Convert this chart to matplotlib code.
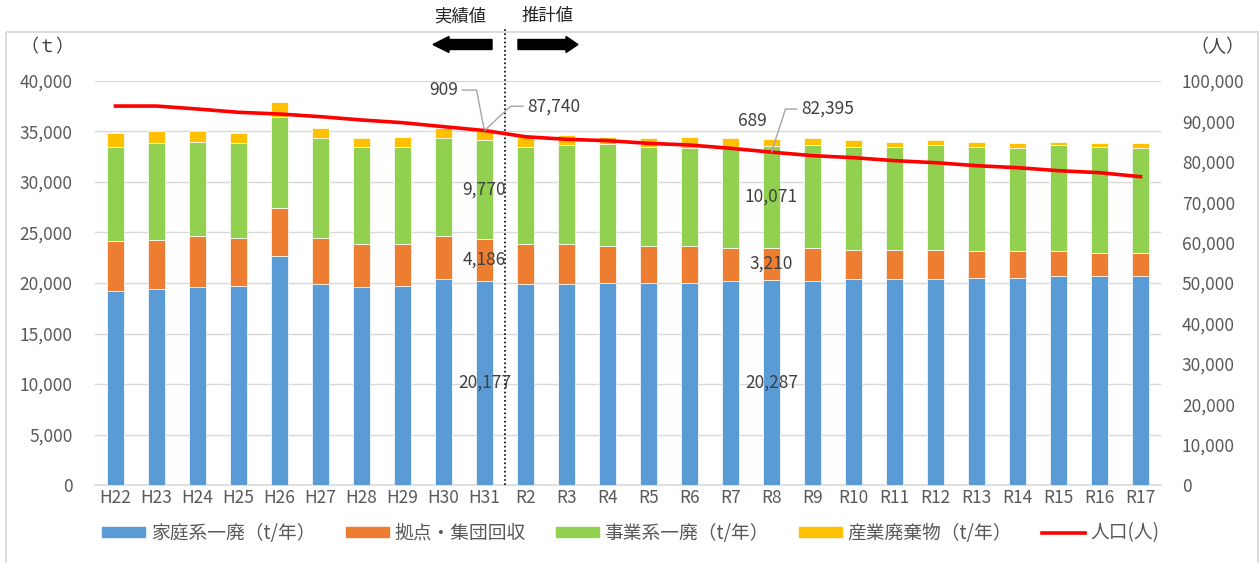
import numpy as np
import matplotlib.pyplot as plt
from matplotlib.patches import Patch, Polygon, Rectangle
from matplotlib.lines import Line2D

plt.rcParams['font.family'] = ['Noto Sans CJK JP', 'DejaVu Sans']

# 年度
years = ['H22', 'H23', 'H24', 'H25', 'H26', 'H27', 'H28', 'H29', 'H30', 'H31',
         'R2', 'R3', 'R4', 'R5', 'R6', 'R7', 'R8', 'R9', 'R10', 'R11',
         'R12', 'R13', 'R14', 'R15', 'R16', 'R17']

# 家庭系一廃 (t/年)
household = [19240, 19400, 19570, 19740, 22710, 19900, 19570, 19740, 20400, 20177,
             19900, 19900, 20030, 20030, 20030, 20200, 20287, 20200, 20360, 20360,
             20360, 20530, 20530, 20730, 20730, 20730]
# 拠点・集団回収
collection = [4920, 4890, 5120, 4750, 4750, 4590, 4260, 4090, 4290, 4186,
              3930, 3930, 3670, 3670, 3670, 3300, 3210, 3300, 2940, 2940,
              2940, 2640, 2640, 2440, 2270, 2270]
# 事業系一廃 (t/年)
business = [9340, 9540, 9300, 9340, 9010, 9830, 9670, 9670, 9630, 9770,
            9670, 9830, 10030, 9800, 9630, 10000, 10071, 10160, 10200, 10200,
            10360, 10330, 10160, 10490, 10500, 10330]
# 産業廃棄物 (t/年)
industrial = [1320, 1190, 1030, 990, 1490, 1000, 820, 990, 980, 909,
              990, 990, 760, 820, 1160, 820, 689, 660, 660, 490,
              500, 490, 530, 330, 360, 530]
# 人口 (人)
population = [93800, 93800, 93070, 92250, 91830, 91170, 90350, 89680, 88700, 87740,
              86200, 85570, 85230, 84570, 84160, 83340, 82395, 81520, 81020, 80280,
              79780, 79040, 78540, 77800, 77310, 76310]

c_blue = '#5B9BD5'
c_orange = '#ED7D31'
c_green = '#92D050'
c_yellow = '#FFC000'
c_red = '#FF0000'
c_text = '#595959'
c_grid = '#D9D9D9'

fig = plt.figure(figsize=(12.6, 5.63), dpi=100)
ax = fig.add_axes([95 / 1260, 78 / 563, 1066 / 1260, 404 / 563])

x = np.arange(len(years))
h = np.array(household)
c = np.array(collection)
b = np.array(business)
ind = np.array(industrial)
w = 0.41
kw = dict(width=w, edgecolor='white', linewidth=0.5, zorder=3)
ax.bar(x, h, color=c_blue, **kw)
ax.bar(x, c, bottom=h, color=c_orange, **kw)
ax.bar(x, b, bottom=h + c, color=c_green, **kw)
ax.bar(x, ind, bottom=h + c + b, color=c_yellow, **kw)

ax.set_xlim(-0.5, len(years) - 0.5)
ax.set_ylim(0, 40000)
ax.set_yticks(np.arange(0, 40001, 5000))
ax.set_yticklabels(['{:,}'.format(v) for v in range(0, 40001, 5000)])
ax.set_xticks(x)
ax.set_xticklabels(years)
ax.yaxis.grid(True, color=c_grid, linewidth=1, zorder=0)
ax.set_axisbelow(True)
for s in ['top', 'right', 'left']:
    ax.spines[s].set_visible(False)
ax.spines['bottom'].set_color(c_grid)
ax.spines['bottom'].set_linewidth(1.2)
ax.tick_params(axis='y', length=0, pad=16, labelsize=12.5, labelcolor=c_text)
ax.tick_params(axis='x', length=0, pad=3, labelsize=12.5, labelcolor=c_text)

ax2 = ax.twinx()
ax2.plot(x, population, color=c_red, linewidth=2.6, zorder=5)
ax2.set_ylim(0, 100000)
ax2.set_yticks(np.arange(0, 100001, 10000))
ax2.set_yticklabels(['{:,}'.format(v) for v in range(0, 100001, 10000)])
for s in ['top', 'right', 'left', 'bottom']:
    ax2.spines[s].set_visible(False)
ax2.tick_params(axis='y', length=0, pad=15, labelsize=12.5, labelcolor=c_text)

# 実績/推計の境界
ax.axvline(9.5, ymin=0, ymax=(485 - 27) / 404, color='black', linestyle=(0, (1, 1.5)),
           linewidth=1.2, clip_on=False, zorder=6)

# データラベル
lab_c = '#404040'
for i in [9, 16]:
    ax.text(i, h[i] / 2, '{:,}'.format(h[i]), ha='center', va='center', fontsize=12.5, color=lab_c, zorder=7)
    ax.text(i, h[i] + c[i] / 2, '{:,}'.format(c[i]), ha='center', va='center', fontsize=12.5, color=lab_c, zorder=7)
    ax.text(i, h[i] + c[i] + b[i] / 2, '{:,}'.format(b[i]), ha='center', va='center', fontsize=12.5, color=lab_c, zorder=7)

lead = dict(arrowstyle='-', color='#A6A6A6', lw=1, shrinkA=1, shrinkB=0)
ax.annotate('{:,}'.format(ind[9]), xy=(9, h[9] + c[9] + b[9] + ind[9]), xytext=(-29.5, 29.5),
            textcoords='offset points', ha='center', va='center', fontsize=12.5, color=lab_c,
            arrowprops=dict(connectionstyle='angle,angleA=0,angleB=101,rad=0', **lead), zorder=8)
ax2.annotate('{:,}'.format(population[9]), xy=(9, population[9]), xytext=(50, 17.5),
             textcoords='offset points', ha='center', va='center', fontsize=12.5, color=lab_c,
             arrowprops=dict(connectionstyle='angle,angleA=0,angleB=43,rad=0', **lead), zorder=8)
ax.annotate('{:,}'.format(ind[16]), xy=(16, h[16] + c[16] + b[16] + ind[16]), xytext=(-13.5, 13),
            textcoords='offset points', ha='center', va='center', fontsize=12.5, color=lab_c, zorder=8)
ax2.annotate('{:,}'.format(population[16]), xy=(16, population[16]), xytext=(40.5, 31),
             textcoords='offset points', ha='center', va='center', fontsize=12.5, color=lab_c,
             arrowprops=dict(connectionstyle='angle,angleA=0,angleB=72,rad=0', **lead), zorder=8)

# 単位
fig.text(47 / 1260, 1 - 47 / 563, '（ｔ）', ha='center', va='center', fontsize=13, color='#404040')
fig.text(1217 / 1260, 1 - 47 / 563, '（人）', ha='center', va='center', fontsize=13, color='#404040')

# 枠・矢印
ov = fig.add_axes([0, 0, 1, 1], zorder=-1)
ov.set_xlim(0, 1260)
ov.set_ylim(563, 0)
ov.axis('off')
ov.add_patch(Rectangle((6, 32), 1252, 540, fill=False, edgecolor=c_grid, linewidth=1.3))
ov.add_patch(Polygon([(433, 44.5), (449, 36.5), (449, 39.5), (492, 39.5), (492, 49.5),
                      (449, 49.5), (449, 52.5)], closed=True, color='black'))
ov.add_patch(Polygon([(578, 44.5), (566, 36.5), (566, 39.5), (518, 39.5), (518, 49.5),
                      (566, 49.5), (566, 52.5)], closed=True, color='black'))
fig.text(460 / 1260, 1 - 16 / 563, '実績値', ha='center', va='center', fontsize=12.5, color='#262626')
fig.text(548 / 1260, 1 - 16 / 563, '推計値', ha='center', va='center', fontsize=12.5, color='#262626')

# 凡例
handles = [Patch(color=c_blue), Patch(color=c_orange), Patch(color=c_green), Patch(color=c_yellow),
           Line2D([0], [0], color=c_red, linewidth=2.6)]
labels = ['家庭系一廃（t/年）', '拠点・集団回収', '事業系一廃（t/年）', '産業廃棄物（t/年）', '人口(人)']
fig.legend(handles, labels, loc='center', bbox_to_anchor=(631 / 1260, 1 - 533 / 563), ncol=5,
           frameon=False, fontsize=13.5, handlelength=2.3, handleheight=0.5, handletextpad=0.3,
           columnspacing=1.6, labelcolor=c_text)

fig.savefig('out.png', dpi=100)
